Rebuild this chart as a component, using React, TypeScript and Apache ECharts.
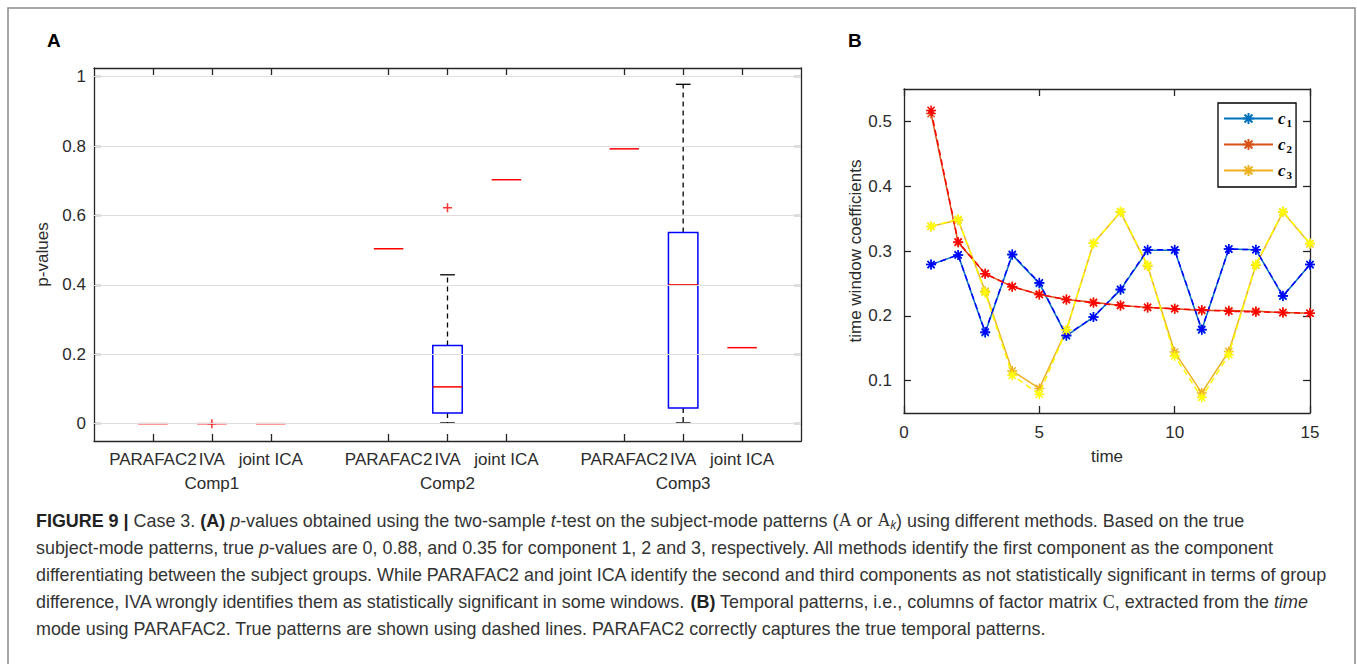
import React, { useEffect, useRef } from "react";
import * as echarts from "echarts";

// ---------- Panel A data ----------
const methodLabels = ["PARAFAC2", "IVA", "joint ICA"];
const compLabels = ["Comp1", "Comp2", "Comp3"];
const boxPositions = [1, 2, 3, 5, 6, 7, 9, 10, 11];
const compPositions = [2, 6, 10];
const boxMin = [0, 0, 0, 0.504, 0.002, 0.703, 0.792, 0.002, 0.219];
const boxQ1 = [0, 0, 0, 0.504, 0.031, 0.703, 0.792, 0.045, 0.219];
const boxMedian = [0, 0, 0, 0.504, 0.106, 0.703, 0.792, 0.4, 0.219];
const boxQ3 = [0, 0, 0, 0.504, 0.225, 0.703, 0.792, 0.551, 0.219];
const boxMax = [0, 0, 0, 0.504, 0.429, 0.703, 0.792, 0.978, 0.219];
const outlierX = [2, 6];
const outlierY = [0, 0.622];
const pTicks = [0, 0.2, 0.4, 0.6, 0.8, 1];

// ---------- Panel B data ----------
const timePoints = [1, 2, 3, 4, 5, 6, 7, 8, 9, 10, 11, 12, 13, 14, 15];
const c1Est = [0.279, 0.294, 0.174, 0.294, 0.25, 0.169, 0.198, 0.24, 0.301, 0.301, 0.178, 0.303, 0.302, 0.23, 0.279];
const c1True = [0.279, 0.294, 0.175, 0.295, 0.251, 0.17, 0.198, 0.241, 0.302, 0.302, 0.179, 0.303, 0.302, 0.231, 0.279];
const c2Est = [0.512, 0.313, 0.265, 0.245, 0.233, 0.225, 0.221, 0.216, 0.213, 0.211, 0.208, 0.208, 0.207, 0.205, 0.204];
const c2True = [0.517, 0.314, 0.265, 0.245, 0.233, 0.225, 0.22, 0.216, 0.213, 0.211, 0.209, 0.207, 0.206, 0.205, 0.204];
const c3Est = [0.338, 0.348, 0.238, 0.115, 0.088, 0.178, 0.312, 0.36, 0.277, 0.144, 0.081, 0.145, 0.278, 0.36, 0.311];
const c3True = [0.338, 0.349, 0.236, 0.108, 0.079, 0.178, 0.312, 0.361, 0.278, 0.138, 0.074, 0.14, 0.279, 0.361, 0.312];
const coefTicks = [0.1, 0.2, 0.3, 0.4, 0.5];

// ---------- Caption ----------
const captionLines = [
  "{b|FIGURE 9 |} Case 3. {b|(A)} {i|p}-values obtained using the two-sample {i|t}-test on the subject-mode patterns ({m|A} or {m|A}{k|k}) using different methods. Based on the true",
  "subject-mode patterns, true {i|p}-values are 0, 0.88, and 0.35 for component 1, 2 and 3, respectively. All methods identify the first component as the component",
  "differentiating between the subject groups. While PARAFAC2 and joint ICA identify the second and third components as not statistically significant in terms of group",
  "difference, IVA wrongly identifies them as statistically significant in some windows. {b|(B)} Temporal patterns, i.e., columns of factor matrix {m|C}, extracted from the {i|time}",
  "mode using PARAFAC2. True patterns are shown using dashed lines. PARAFAC2 correctly captures the true temporal patterns.",
];

const AX = "#262626";
const TXT = "#2b2b2b";
const FONT = "'Liberation Sans', Arial, sans-serif";
const STAR = "path://M5,0L5,10M0,5L10,5M1.46,1.46L8.54,8.54M8.54,1.46L1.46,8.54";
const PLUS = "path://M0,5L10,5M5,0L5,10";

function lineSeries(name: string, data: number[], color: string, dashed: boolean, z: number) {
  return {
    type: "line",
    name,
    xAxisIndex: 2,
    yAxisIndex: 2,
    data: timePoints.map((t, i) => [t, data[i]]),
    symbol: STAR,
    symbolSize: 10,
    symbolKeepAspect: true,
    showAllSymbol: true,
    z,
    lineStyle: { color, width: 1.5, type: dashed ? [6, 4] : "solid" },
    itemStyle: { color, borderColor: color, borderWidth: 1.5 },
    emphasis: { disabled: true },
  };
}

export default function App() {
  const ref = useRef<HTMLDivElement>(null);
  useEffect(() => {
    if (!ref.current) return;
    const chart = echarts.init(ref.current, null, { renderer: "svg" });

    const boxData = boxPositions.map((x, i) => [x, boxMin[i], boxQ1[i], boxMedian[i], boxQ3[i], boxMax[i]]);

    const axisLine = { show: true, onZero: false, lineStyle: { color: AX, width: 1.3 } };
    const tickStyle = { show: true, inside: true, length: 7, lineStyle: { color: AX, width: 1.3 } };

    const option: any = {
      animation: false,
      backgroundColor: "#fff",
      textStyle: { fontFamily: FONT },
      grid: [
        { left: 94, top: 68, width: 707, height: 373, containLabel: false },
        { left: 904, top: 89, width: 406, height: 324, containLabel: false },
      ],
      xAxis: [
        {
          type: "value", gridIndex: 0, position: "bottom", min: 0, max: 12,
          axisLine, splitLine: { show: false },
          axisTick: { ...tickStyle, customValues: boxPositions },
          axisLabel: {
            customValues: boxPositions, margin: 10, color: TXT, fontSize: 17,
            showMinLabel: true, showMaxLabel: true, hideOverlap: false,
            formatter: (v: number) => {
              const i = boxPositions.indexOf(v);
              return i < 0 ? "" : methodLabels[i % 3];
            },
          },
        },
        {
          type: "value", gridIndex: 0, position: "top", min: 0, max: 12,
          axisLine, splitLine: { show: false },
          axisTick: { ...tickStyle, customValues: boxPositions },
          axisLabel: { show: false },
        },
        {
          type: "value", gridIndex: 1, position: "bottom", min: 0, max: 15, interval: 5,
          axisLine, splitLine: { show: false }, axisTick: tickStyle,
          axisLabel: { margin: 11, color: TXT, fontSize: 17 },
          name: "time", nameLocation: "middle", nameGap: 35,
          nameTextStyle: { color: TXT, fontSize: 17 },
        },
        {
          type: "value", gridIndex: 1, position: "top", min: 0, max: 15, interval: 5,
          axisLine, splitLine: { show: false }, axisTick: tickStyle, axisLabel: { show: false },
        },
        {
          type: "value", gridIndex: 0, position: "bottom", offset: 24, min: 0, max: 12,
          axisLine: { show: false }, axisTick: { show: false }, splitLine: { show: false },
          axisLabel: {
            customValues: compPositions, margin: 10, color: TXT, fontSize: 17,
            showMinLabel: true, showMaxLabel: true,
            formatter: (v: number) => {
              const i = compPositions.indexOf(v);
              return i < 0 ? "" : compLabels[i];
            },
          },
        },
      ],
      yAxis: [
        {
          type: "value", gridIndex: 0, position: "left", min: -0.05, max: 1.025,
          axisLine, splitLine: { show: false },
          axisTick: { ...tickStyle, customValues: pTicks },
          axisLabel: {
            customValues: pTicks, margin: 8, color: TXT, fontSize: 17,
            showMinLabel: true, showMaxLabel: true, formatter: (v: number) => String(v),
          },
          name: "p-values", nameLocation: "middle", nameGap: 29, nameRotate: 90,
          nameTextStyle: { color: TXT, fontSize: 17 },
        },
        {
          type: "value", gridIndex: 0, position: "right", min: -0.05, max: 1.025,
          axisLine, splitLine: { show: false },
          axisTick: { ...tickStyle, customValues: pTicks }, axisLabel: { show: false },
        },
        {
          type: "value", gridIndex: 1, position: "left", min: 0.05, max: 0.55,
          axisLine, splitLine: { show: false },
          axisTick: { ...tickStyle, customValues: coefTicks },
          axisLabel: {
            customValues: coefTicks, margin: 12, color: TXT, fontSize: 17,
            showMinLabel: true, showMaxLabel: true, formatter: (v: number) => String(v),
          },
          name: "time window coefficients", nameLocation: "middle", nameGap: 38, nameRotate: 90,
          nameTextStyle: { color: TXT, fontSize: 17 },
        },
        {
          type: "value", gridIndex: 1, position: "right", min: 0.05, max: 0.55,
          axisLine, splitLine: { show: false },
          axisTick: { ...tickStyle, customValues: coefTicks }, axisLabel: { show: false },
        },
      ],
      legend: {
        data: ["c1", "c2", "c3"],
        orient: "vertical",
        left: 1218,
        top: 103,
        padding: [7, 4, 7, 5],
        itemGap: 8,
        itemWidth: 49,
        itemHeight: 14,
        borderColor: "#000",
        borderWidth: 1.3,
        backgroundColor: "#fff",
        selectedMode: false,
        formatter: (name: string) => `{i|c}{s|${name.slice(1)}}`,
        textStyle: {
          rich: {
            i: { fontFamily: "'Liberation Serif', serif", fontStyle: "italic", fontWeight: "bold", fontSize: 17, color: "#000" },
            s: { fontFamily: "'Liberation Serif', serif", fontWeight: "bold", fontSize: 11, color: "#000", padding: [8, 0, 0, 1] },
          },
        },
      },
      series: [
        {
          type: "line", xAxisIndex: 0, yAxisIndex: 0, data: [], z: 1, silent: true,
          markLine: {
            silent: true, symbol: "none", label: { show: false },
            lineStyle: { color: "#dedede", width: 1, type: "solid" },
            data: pTicks.map((v) => ({ yAxis: v })),
          },
        },
        {
          type: "custom", xAxisIndex: 0, yAxisIndex: 0, z: 3, data: boxData,
          encode: { x: 0, y: [1, 2, 3, 4, 5] },
          renderItem: (params: any, api: any) => {
            const x = api.value(0);
            const pMin = api.coord([x, api.value(1)]);
            const pQ1 = api.coord([x, api.value(2)]);
            const pMed = api.coord([x, api.value(3)]);
            const pQ3 = api.coord([x, api.value(4)]);
            const pMax = api.coord([x, api.value(5)]);
            const hw = api.size([0.25, 0])[0];
            const cw = api.size([0.25, 0])[0];
            const cx = pMed[0];
            const children: any[] = [];
            const dash = { stroke: "#000", lineWidth: 1.3, lineDash: [5, 4] };
            const solid = { stroke: "#000", lineWidth: 1.3 };
            if (pMax[1] < pQ3[1]) {
              children.push({ type: "line", shape: { x1: cx, y1: pQ3[1], x2: cx, y2: pMax[1] }, style: dash });
              children.push({ type: "line", shape: { x1: cx - cw / 2, y1: pMax[1], x2: cx + cw / 2, y2: pMax[1] }, style: solid });
            }
            if (pMin[1] > pQ1[1]) {
              children.push({ type: "line", shape: { x1: cx, y1: pQ1[1], x2: cx, y2: pMin[1] }, style: dash });
              children.push({ type: "line", shape: { x1: cx - cw / 2, y1: pMin[1], x2: cx + cw / 2, y2: pMin[1] }, style: solid });
            }
            if (pQ1[1] - pQ3[1] > 0.5) {
              children.push({
                type: "rect",
                shape: { x: cx - hw, y: pQ3[1], width: 2 * hw, height: pQ1[1] - pQ3[1] },
                style: { fill: "none", stroke: "#0000ff", lineWidth: 1.5 },
              });
            }
            children.push({
              type: "line",
              shape: { x1: cx - hw, y1: pMed[1], x2: cx + hw, y2: pMed[1] },
              style: { stroke: "#ff0000", lineWidth: 1.5 },
            });
            return { type: "group", children };
          },
        },
        {
          type: "scatter", xAxisIndex: 0, yAxisIndex: 0, z: 4,
          data: outlierX.map((x, i) => [x, outlierY[i]]),
          symbol: PLUS, symbolSize: 9,
          itemStyle: { color: "#ff0000", borderColor: "#ff0000", borderWidth: 1.5 },
        },
        lineSeries("c1", c1Est, "#0072BD", false, 3),
        lineSeries("c2", c2Est, "#D95319", false, 3),
        lineSeries("c3", c3Est, "#EDB120", false, 3),
        lineSeries("c1 true", c1True, "#0000FF", true, 4),
        lineSeries("c2 true", c2True, "#FF0000", true, 4),
        lineSeries("c3 true", c3True, "#FFFF00", true, 4),
      ],
      graphic: [
        {
          type: "rect", z: -10, silent: true,
          shape: { x: 8, y: 8, width: 1347, height: 720 },
          style: { fill: "#fff", stroke: "#8a8a8a", lineWidth: 1.5 },
        },
        { type: "text", x: 47, y: 40, style: { text: "A", font: `bold 19px ${FONT}`, fill: "#000", verticalAlign: "middle" } },
        { type: "text", x: 848, y: 40, style: { text: "B", font: `bold 19px ${FONT}`, fill: "#000", verticalAlign: "middle" } },
        ...captionLines.map((t, i) => ({
          type: "text",
          x: 36,
          y: 520 + i * 27.2,
          scaleX: 0.943,
          style: {
            text: t,
            fontFamily: FONT,
            fontSize: 19,
            fill: "#333",
            verticalAlign: "middle",
            rich: {
              b: { fontFamily: FONT, fontSize: 19, fontWeight: "bold", fill: "#222" },
              i: { fontFamily: FONT, fontSize: 19, fontStyle: "italic", fill: "#333" },
              m: { fontFamily: "'Liberation Serif', serif", fontSize: 19, fill: "#333" },
              k: { fontFamily: FONT, fontSize: 12, fontStyle: "italic", fill: "#333", padding: [9, 0, 0, 0] },
            },
          },
        })),
      ],
    };
    chart.setOption(option);
    return () => chart.dispose();
  }, []);

  return (
    <div
      ref={ref}
      style={{ position: "fixed", left: 0, top: 0, width: 1357, height: 664, background: "#fff" }}
    />
  );
}
